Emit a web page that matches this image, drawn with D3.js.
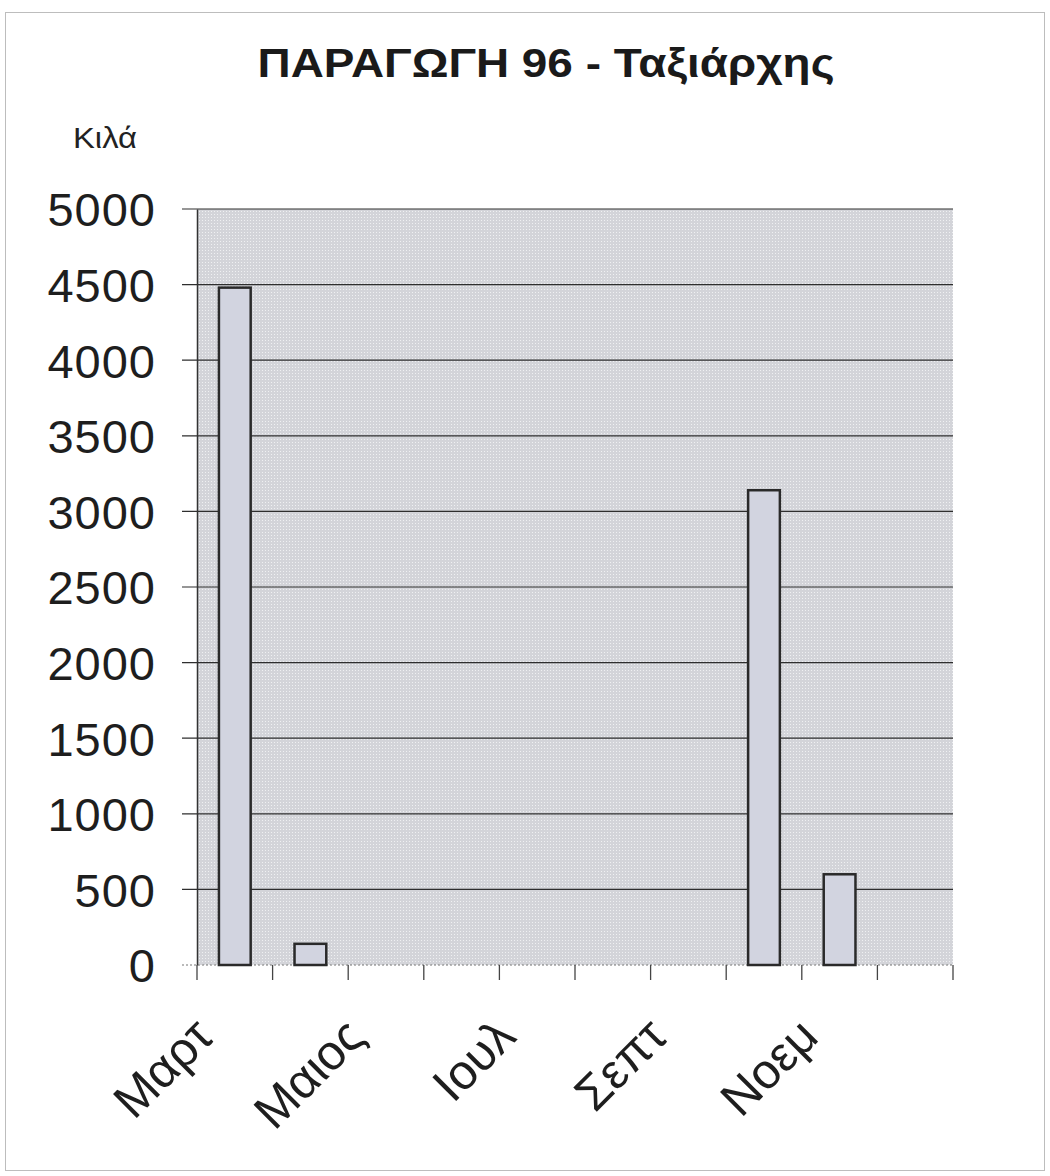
<!DOCTYPE html>
<html><head><meta charset="utf-8">
<script src="https://cdn.jsdelivr.net/npm/d3@7"></script>
<style>body{margin:0;background:#fff}svg{display:block}</style>
</head><body>
<svg id="c" width="1050" height="1176"></svg>
<script>
const categories = ["Μαρτ","Απρ","Μαιος","Ιουν","Ιουλ","Αυγ","Σεπτ","Οκτ","Νοεμ","Δεκ"];
const values = [4480, 140, 0, 0, 0, 0, 0, 3140, 600, 0];
const shownLabels = ["Μαρτ","Μαιος","Ιουλ","Σεπτ","Νοεμ"];
const yTicks = [0,500,1000,1500,2000,2500,3000,3500,4000,4500,5000];
const title = "ΠΑΡΑΓΩΓΗ 96 - Ταξιάρχης";
const yLabel = "Κιλά";

const svg = d3.select("#c");
const font = "'Liberation Sans', Arial, sans-serif";
const m = {left:197, right:953, top:209, bottom:965};

// outer frame
svg.append("rect").attr("x",5.5).attr("y",12.5).attr("width",1039).attr("height",1158)
  .attr("fill","none").attr("stroke","#bdbdbd").attr("stroke-width",1);

const defs = svg.append("defs");
const pat = defs.append("pattern").attr("id","dots").attr("width",3).attr("height",3).attr("patternUnits","userSpaceOnUse");
pat.append("rect").attr("width",3).attr("height",3).attr("fill","#d3d4d9");
pat.append("rect").attr("x",1).attr("y",1).attr("width",1).attr("height",1).attr("fill","#eff0f2");

const x = d3.scaleBand().domain(categories).range([m.left,m.right]).paddingInner(0.58).paddingOuter(0.29);
const xb = d3.scaleBand().domain(categories).range([m.left,m.right]);
const y = d3.scaleLinear().domain([0,5000]).range([m.bottom,m.top]);

svg.append("rect").attr("x",m.left).attr("y",m.top).attr("width",m.right-m.left).attr("height",m.bottom-m.top)
  .attr("fill","url(#dots)");

// gridlines
svg.append("g").selectAll("line").data(yTicks.filter(d=>d>0)).join("line")
  .attr("x1",m.left-15).attr("x2",m.right).attr("y1",d=>y(d)).attr("y2",d=>y(d))
  .attr("stroke","#2e2e2e").attr("stroke-width",1.2);
// zero line dotted
svg.append("line").attr("x1",m.left-15).attr("x2",m.right).attr("y1",y(0)).attr("y2",y(0))
  .attr("stroke","#777").attr("stroke-width",1.2).attr("stroke-dasharray","2,2");

// y axis
const yAxis = svg.append("g").attr("transform",`translate(${m.left},0)`)
  .call(d3.axisLeft(y).tickValues(yTicks).tickSize(0).tickPadding(41).tickFormat(d3.format("d")));
yAxis.select(".domain").attr("stroke","#333").attr("stroke-width",1.5);
yAxis.selectAll("text").attr("font-family",font).attr("font-size",47).attr("fill","#1e1e1e")
  .attr("dy","0.36em").style("letter-spacing","1px");

// x axis ticks
const xAxis = svg.append("g").attr("transform",`translate(0,${m.bottom})`);
const tickPos = categories.map(c=>xb(c)).concat([m.right]);
xAxis.selectAll("line").data(tickPos).join("line")
  .attr("x1",d=>d).attr("x2",d=>d).attr("y1",0).attr("y2",15)
  .attr("stroke","#444").attr("stroke-width",1.3);

// bars
svg.append("g").selectAll("rect").data(categories.map((c,i)=>({c,v:values[i]})).filter(d=>d.v>0)).join("rect")
  .attr("x",d=>x(d.c)).attr("width",x.bandwidth())
  .attr("y",d=>y(d.v)).attr("height",d=>y(0)-y(d.v))
  .attr("fill","#d2d4e0").attr("stroke","#2a2a2a").attr("stroke-width",2.5);

// x labels
svg.append("g").selectAll("text").data(shownLabels).join("text")
  .attr("transform",d=>`translate(${xb(d)+xb.bandwidth()/2-19},${m.bottom+74}) rotate(-45)`)
  .attr("text-anchor","end").attr("font-family",font).attr("font-size",49).attr("fill","#1e1e1e")
  .text(d=>d);

// title
svg.append("text").attr("x",546).attr("y",77).attr("text-anchor","middle")
  .attr("font-family",font).attr("font-weight","bold").attr("font-size",41).attr("fill","#1a1a1a")
  .attr("textLength",577).attr("lengthAdjust","spacingAndGlyphs")
  .text(title);
svg.append("text").attr("x",73).attr("y",148).attr("font-family",font).attr("font-size",29).attr("fill","#222")
  .attr("textLength",64).attr("lengthAdjust","spacingAndGlyphs")
  .text(yLabel);
</script>
</body></html>
